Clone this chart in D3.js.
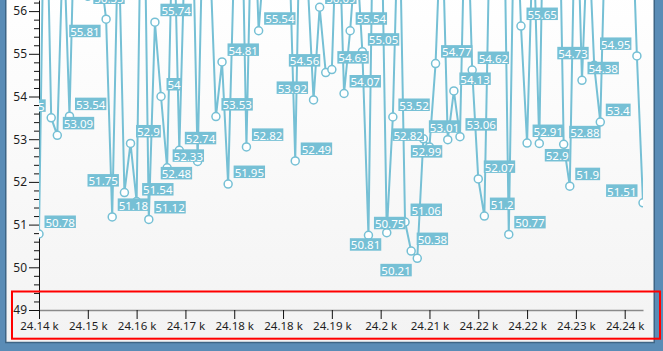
<!DOCTYPE html>
<html><head><meta charset="utf-8">
<script src="https://cdn.jsdelivr.net/npm/d3@7"></script>
<style>
html,body{margin:0;padding:0;background:#5a8cb6;overflow:hidden}
svg{display:block}
text{font-family:"Noto Sans","Open Sans",sans-serif}
</style></head><body>
<svg id="chart" width="663" height="351"></svg>
<script>
// ---------------- data ----------------
const xStart = 24144;            // x value of the first point (consecutive integers)
const values = [
  50.78, 60.5, 53.5, 53.09, 57.9, 53.54, 59.3, 61.0, 56.35, 60.0,
  57.0, 55.81, 51.18, 58.0, 51.75, 52.9, 51.54, 61.5, 51.12, 55.74,
  54, 52.33, 58.8, 52.74, 58.0, 59.4, 52.48, 59.1, 57.4, 53.53,
  54.81, 51.95, 57.3, 60.5, 52.82, 59.6, 55.54, 57.4, 60.3, 58.2,
  61.2, 57.6, 52.49, 60.3, 56.8, 53.92, 56.09, 54.56, 54.63, 59.0,
  54.07, 55.54, 57.5, 55.05, 50.75, 61.0, 59.5, 50.81, 53.52, 59.0,
  51.06, 50.38, 50.21, 53.01, 52.82, 54.77, 58.5, 52.99, 54.13, 53.06,
  59.5, 54.62, 52.07, 51.2, 58.9, 58.3, 60.8, 50.77, 59.5, 55.65,
  52.91, 58.0, 52.9, 61.5, 58.6, 61.0, 52.88, 51.9, 59.6, 54.38,
  58.1, 54.73, 53.4, 59.0, 60.6, 57.8, 61.3, 59.1, 54.95, 51.51
];
const xTickValues = [24144, 24152, 24160, 24168, 24176, 24184, 24192, 24200, 24208, 24216, 24224, 24232, 24240];
const xTickLabels = ["24.14 k","24.15 k","24.16 k","24.17 k","24.18 k","24.18 k","24.19 k","24.2 k","24.21 k","24.22 k","24.22 k","24.23 k","24.24 k"];
const yMajorTicks = [49, 50, 51, 52, 53, 54, 55, 56];
const yMax = 56.26;

// ---------------- layout ----------------
const PLOT = {left: 39, right: 643, top: 0, bottom: 310};
const COLOR = "#76c0d5";
const FONT = 11.5;

const svg = d3.select("#chart");
const defs = svg.append("defs");
const grad = defs.append("linearGradient").attr("id", "bg").attr("x1", 0).attr("y1", 0).attr("x2", 0).attr("y2", 1);
grad.append("stop").attr("offset", "0%").attr("stop-color", "#ffffff");
grad.append("stop").attr("offset", "100%").attr("stop-color", "#f3f3f3");
defs.append("clipPath").attr("id", "plotClip").append("rect")
  .attr("x", PLOT.left).attr("y", -30).attr("width", PLOT.right - PLOT.left).attr("height", PLOT.bottom + 30);

svg.append("rect").attr("width", 663).attr("height", 351).attr("fill", "#5a8cb6");
svg.append("rect").attr("x", 5.75).attr("y", -10).attr("width", 648.5).attr("height", 352.5)
  .attr("fill", "url(#bg)").attr("stroke", "#3e6585").attr("stroke-width", 1.5);

const x = d3.scaleLinear().domain([xStart, xStart + values.length - 1]).range([PLOT.left, PLOT.right]);
const y = d3.scaleLinear().domain([49, yMax]).range([PLOT.bottom, PLOT.top]);

const pts = values.map((v, i) => ({i, v, xv: xStart + i, px: x(xStart + i), py: y(v)}));

// ---------------- axes ----------------
const yMinor = d3.range(0, 37).map(k => +(49 + k * 0.2).toFixed(1)).filter(t => !Number.isInteger(t));
const gyMinor = svg.append("g").attr("transform", `translate(${PLOT.left},0)`)
  .call(d3.axisLeft(y).tickValues(yMinor).tickSize(5).tickSizeOuter(0).tickFormat(""));
gyMinor.select(".domain").remove();
const gy = svg.append("g").attr("transform", `translate(${PLOT.left},0)`)
  .call(d3.axisLeft(y).tickValues(yMajorTicks).tickSize(10).tickPadding(2).tickSizeOuter(0).tickFormat(d3.format("d")));
svg.selectAll("g .tick line").attr("stroke", "#111");
gy.select(".domain").attr("stroke", "#111");
gy.selectAll("text").attr("font-size", 12).attr("fill", "#1e1e1e").attr("font-family", '"Noto Sans",sans-serif');

const gx = svg.append("g").attr("transform", `translate(0,${PLOT.bottom})`)
  .call(d3.axisBottom(x).tickValues(xTickValues).tickSize(9).tickSizeOuter(0)
    .tickFormat((d, i) => xTickLabels[i]));
gx.select(".domain").attr("stroke", "#8a8a8a").attr("stroke-width", 1.6);
gx.selectAll(".tick line").attr("stroke", "#111");
gx.selectAll("text").attr("font-size", FONT).attr("fill", "#1e1e1e").attr("font-family", '"Noto Sans",sans-serif');

// ---------------- series ----------------
const plotG = svg.append("g").attr("clip-path", "url(#plotClip)");
plotG.append("path").datum(pts)
  .attr("fill", "none").attr("stroke", COLOR).attr("stroke-width", 2).attr("stroke-linejoin", "round")
  .attr("d", d3.line().x(d => x(d.xv)).y(d => y(d.v)));
plotG.selectAll("circle.pt").data(pts).join("circle").attr("class", "pt")
  .attr("cx", d => x(d.xv)).attr("cy", d => y(d.v)).attr("r", 4)
  .attr("fill", "#fff").attr("stroke", COLOR).attr("stroke-width", 1.5);

// ---------------- smart data labels ----------------
const LABEL_H = 12.5, GAP_X = 5.5, GAP_UP = 6, GAP_DN = 5.5, TOP_LIMIT = -8.5;
const BOUNDS = {x0: 5, x1: 653, y0: TOP_LIMIT, y1: 340};
const measure = svg.append("text").attr("font-size", FONT).attr("x", -100).attr("y", -100);
const labeled = pts.filter(p => p.py >= TOP_LIMIT && p.py <= PLOT.bottom);
labeled.forEach(p => {
  p.text = String(p.v);
  measure.text(p.text);
  p.w = measure.node().getComputedTextLength() + 2;
});
measure.remove();

function box(p, pos) {
  const x0 = (pos === "AR" || pos === "BR") ? p.px + GAP_X : p.px - GAP_X - p.w;
  let y0 = (pos === "AR" || pos === "AL") ? p.py - GAP_UP - LABEL_H : p.py + GAP_DN;
  if (y0 < BOUNDS.y0) y0 = BOUNDS.y0;
  return {x0, y0, x1: x0 + p.w, y1: y0 + LABEL_H};
}
const inBounds = b => b.x0 >= BOUNDS.x0 && b.x1 <= BOUNDS.x1 && b.y1 <= BOUNDS.y1;
const PAD = 0.5;
const overlap = (a, b) => a.x0 < b.x1 + PAD && b.x0 < a.x1 + PAD && a.y0 < b.y1 + PAD && b.y0 < a.y1 + PAD;
const ORDER = ["AR", "AL", "BL", "BR"];

labeled.forEach(p => {
  p.pos = ORDER.find(o => inBounds(box(p, o))) || "AR";
  p.b = box(p, p.pos);
  p.moved = p.pos !== "AR";
});
const conflicts = p => labeled.filter(q => q !== p && overlap(p.b, q.b)).length;

for (let iter = 0; iter < 500; iter++) {
  const cand = labeled.filter(p => !p.moved).map(p => ({p, c: conflicts(p)}))
    .filter(o => o.c > 0).sort((a, b) => b.c - a.c || a.p.v - b.p.v);
  if (!cand.length) break;
  let done = false;
  for (const {p} of cand) {
    const alt = ORDER.slice(1).find(o => {
      const b = box(p, o);
      return inBounds(b) && labeled.every(q => q === p || !overlap(b, q.b));
    });
    if (alt) { p.pos = alt; p.b = box(p, alt); p.moved = true; done = true; break; }
  }
  if (!done) break;
}

const lab = plotG.selectAll("g.lab").data(labeled).join("g").attr("class", "lab");
lab.append("rect")
  .attr("x", d => d.b.x0).attr("y", d => d.b.y0)
  .attr("width", d => d.w).attr("height", LABEL_H).attr("fill", COLOR);
lab.append("text")
  .attr("x", d => (d.b.x0 + d.b.x1) / 2).attr("y", d => d.b.y0 + LABEL_H / 2 + 0.5)
  .attr("text-anchor", "middle").attr("dominant-baseline", "central")
  .attr("font-size", FONT).attr("fill", "#ffffff").text(d => d.text);

// ---------------- highlight box ----------------
svg.append("rect").attr("x", 12).attr("y", 291.5).attr("width", 648).attr("height", 47.2)
  .attr("fill", "none").attr("stroke", "#ff0000").attr("stroke-width", 2);
</script>
</body></html>
